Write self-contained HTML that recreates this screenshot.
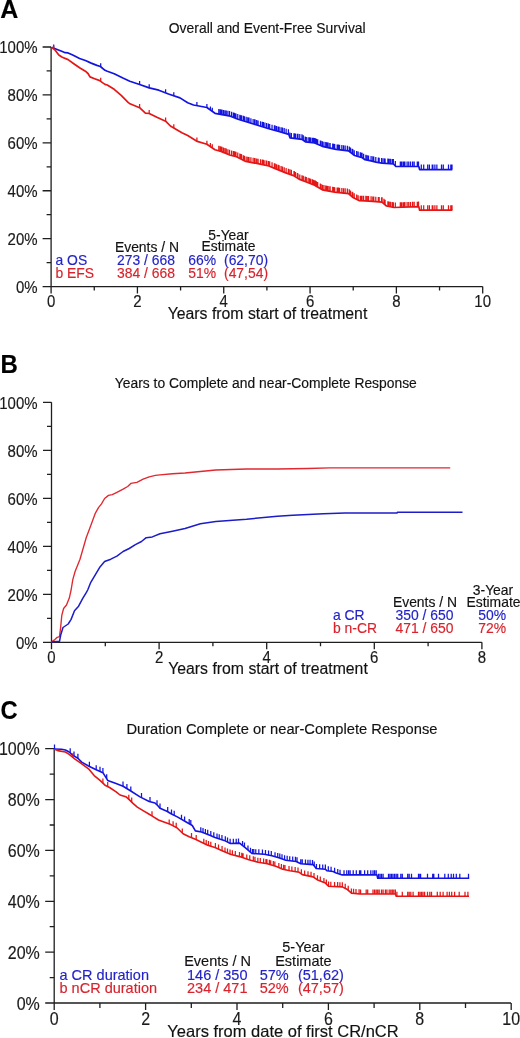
<!DOCTYPE html>
<html><head><meta charset="utf-8"><style>
html,body{margin:0;padding:0;background:#fff;}
body{width:520px;height:1038px;overflow:hidden;}
svg{display:block;font-family:"Liberation Sans", sans-serif;filter:blur(0.3px);}
text{stroke:currentColor;stroke-width:0.15px;paint-order:stroke;}
</style></head><body>
<svg width="520" height="1038" viewBox="0 0 520 1038">
<rect width="520" height="1038" fill="#fff"/>
<text x="0.3" y="18.3" font-size="25" fill="#000" color="#000" text-anchor="start" font-weight="bold">A</text>
<text x="267.25" y="33.2" font-size="13.9" fill="#111" color="#111" text-anchor="middle" font-weight="normal">Overall and Event-Free Survival</text>
<path d="M51.1 47V286.6M51.1 286.6H482.7" stroke="#1e1e1e" stroke-width="1.3" fill="none"/>
<path d="M42.6 286.6H51.1 M46.6 262.64H51.1 M42.6 238.68H51.1 M46.6 214.72H51.1 M42.6 190.76H51.1 M46.6 166.8H51.1 M42.6 142.84H51.1 M46.6 118.88H51.1 M42.6 94.92H51.1 M46.6 70.96H51.1 M42.6 47H51.1 M51.1 286.6V293.6 M94.26 286.6V290.6 M137.42 286.6V293.6 M180.58 286.6V290.6 M223.74 286.6V293.6 M266.9 286.6V290.6 M310.06 286.6V293.6 M353.22 286.6V290.6 M396.38 286.6V293.6 M439.54 286.6V290.6 M482.7 286.6V293.6" stroke="#1e1e1e" stroke-width="1.3" fill="none"/>
<text transform="translate(37.6 292.81) scale(1 1.15)" font-size="15.0" fill="#1a1a1a" color="#1a1a1a" text-anchor="end" font-weight="normal">0%</text>
<text transform="translate(37.6 244.89) scale(1 1.15)" font-size="15.0" fill="#1a1a1a" color="#1a1a1a" text-anchor="end" font-weight="normal">20%</text>
<text transform="translate(37.6 196.97) scale(1 1.15)" font-size="15.0" fill="#1a1a1a" color="#1a1a1a" text-anchor="end" font-weight="normal">40%</text>
<text transform="translate(37.6 149.05) scale(1 1.15)" font-size="15.0" fill="#1a1a1a" color="#1a1a1a" text-anchor="end" font-weight="normal">60%</text>
<text transform="translate(37.6 101.13) scale(1 1.15)" font-size="15.0" fill="#1a1a1a" color="#1a1a1a" text-anchor="end" font-weight="normal">80%</text>
<text transform="translate(37.6 53.21) scale(1 1.15)" font-size="15.0" fill="#1a1a1a" color="#1a1a1a" text-anchor="end" font-weight="normal">100%</text>
<text transform="translate(51.1 306.9) scale(1 1.15)" font-size="15.0" fill="#1a1a1a" color="#1a1a1a" text-anchor="middle" font-weight="normal">0</text>
<text transform="translate(137.42 306.9) scale(1 1.15)" font-size="15.0" fill="#1a1a1a" color="#1a1a1a" text-anchor="middle" font-weight="normal">2</text>
<text transform="translate(223.74 306.9) scale(1 1.15)" font-size="15.0" fill="#1a1a1a" color="#1a1a1a" text-anchor="middle" font-weight="normal">4</text>
<text transform="translate(310.06 306.9) scale(1 1.15)" font-size="15.0" fill="#1a1a1a" color="#1a1a1a" text-anchor="middle" font-weight="normal">6</text>
<text transform="translate(396.38 306.9) scale(1 1.15)" font-size="15.0" fill="#1a1a1a" color="#1a1a1a" text-anchor="middle" font-weight="normal">8</text>
<text transform="translate(482.7 306.9) scale(1 1.15)" font-size="15.0" fill="#1a1a1a" color="#1a1a1a" text-anchor="middle" font-weight="normal">10</text>
<polyline points="51.6,47.3 56.5,49.2 62.3,51.5 65.2,52.7 68.1,52.9 72.7,55 79.6,58.5 85.4,60.5 91.2,63.1 96.9,65.4 100.4,66.5 105,70.3 107.3,71.2 114.2,73.7 122.9,78 129.8,81.2 139.6,84.5 149.2,87.9 158.8,90.2 168.5,94 180,97.9 187.7,102.7 193.5,105 206.9,107.5 215,113.3 230.4,116.2 238,119.2 253.5,124 268.8,128.7 279.6,131.8 288.8,134.4 290,137.8 302,139.3 305.4,141.8 314.6,143 322.3,146.3 336,149.3 348.5,150.9 354.6,155.5 362.3,157.8 365,159.7 371,160.9 376,162.1 382,163.2 393.5,164 395.8,166.4 418.8,166.5 419.6,169.6 452.3,169.6" fill="none" stroke="#1414e0" stroke-width="1.7" stroke-linejoin="round"/>
<polyline points="51.6,47.3 55.4,50.4 58.8,55 62.3,57.3 68.1,59.6 73.8,63.7 79.6,67.7 85.4,71.2 88,73.5 90,76.9 94.6,78.7 99.2,80.4 105,84.4 107.3,85 114.2,89.3 121.2,95.4 128.1,102.3 130,103.8 139.6,107.7 145.4,113.1 149.2,113.5 156.9,117.3 165.6,121.2 170.4,126 173.8,127.9 181.9,132.7 187.7,135.6 197.3,141.4 206.9,144.3 215,149.8 221,151.4 230.4,155.2 236.5,156.8 245.8,161.4 258,163.7 268.8,166 276.5,169.1 285.8,172.9 293.5,175.6 299,179.1 307,182.2 314.6,185.2 322.3,189.8 334.6,192.2 348.5,193.7 353,197.5 359,200.6 365,200.8 372.7,201.4 382,202.2 386.5,206 394,207.5 418.8,206.6 419.6,210.2 452.3,210.2" fill="none" stroke="#e41616" stroke-width="1.7" stroke-linejoin="round"/>
<path d="M53.7 48.11v-3.6 M100.7 66.75v-3.6 M139.6 84.5v-3.6 M149.2 87.9v-3.6 M165.6 92.86v-3.6 M173.8 95.8v-3.6 M196.9 105.63v-3.6 M206.9 107.5v-3.6 M210.4 110.01v-3.6 M212.3 111.37v-3.6 M218.82 114.02v-5 M220.22 114.28v-5 M221.07 114.44v-5 M221.94 114.61v-5 M223.45 114.89v-5 M224.92 115.17v-5 M226.26 115.42v-5 M227.91 115.73v-5 M229.57 116.04v-5 M231.63 116.69v-5 M233.42 117.39v-5 M234.23 117.71v-5 M234.76 117.92v-5 M235.95 118.39v-5 M237.76 119.11v-5 M239.85 119.77v-5 M241.11 120.16v-5 M241.57 120.31v-5 M243.33 120.85v-5 M244.4 121.18v-5 M246.17 121.73v-5 M247.77 122.23v-5 M249 122.61v-5 M250.9 123.19v-5 M253.12 123.88v-5 M254.62 124.34v-5 M255.08 124.49v-5 M256.67 124.97v-5 M258.07 125.4v-5 M260.53 126.16v-5 M262.26 126.69v-5 M263.36 127.03v-5 M264.89 127.5v-5 M266.62 128.03v-5 M268.35 128.56v-5 M269.68 128.95v-5 M272.05 129.63v-5 M274.39 130.3v-5 M275.19 130.53v-5 M276.57 130.93v-5 M278.19 131.4v-5 M279.11 131.66v-5 M281.05 132.21v-5 M282.5 132.62v-5 M284.2 133.1v-5 M286.13 133.65v-5 M288.42 134.29v-5 M289.87 137.43v-5 M291.37 137.97v-5 M293.99 138.3v-5 M294.28 138.34v-5 M295.51 138.49v-5 M297.36 138.72v-5 M297.99 138.8v-5 M299.77 139.02v-5 M301.97 139.3v-5 M303.3 140.26v-5 M305.14 141.61v-5 M306.3 141.92v-5 M308.16 142.16v-5 M309.59 142.35v-5 M310.69 142.49v-5 M312.35 142.71v-5 M313.45 142.85v-5 M314.67 143.03v-5 M315.27 143.29v-5 M316.44 143.79v-5 M317.7 144.33v-5 M320.3 145.44v-5 M321.01 145.75v-5 M322.44 146.33v-5 M323.96 146.66v-5 M325.74 147.05v-5 M326.86 147.3v-5 M328.12 147.57v-5 M329.82 147.95v-5 M330.1 148.01v-5 M332.71 148.58v-5 M333.79 148.82v-5 M334.68 149.01v-5 M337.16 149.45v-5 M338.34 149.6v-5 M339.59 149.76v-5 M341.84 150.05v-5 M343.52 150.26v-5 M345.16 150.47v-5 M347.36 150.75v-5 M349.25 151.47v-5 M350.49 152.4v-5 M352.16 153.66v-5 M352.74 154.1v-5 M354.21 155.21v-5 M356.68 156.12v-5 M358.12 156.55v-5 M360.29 157.2v-5 M360.9 157.38v-5 M362.05 157.73v-5 M363.61 158.72v-5 M365.87 159.87v-5 M367.18 160.14v-5 M368.53 160.41v-5 M371.08 160.92v-5 M372.81 161.33v-5 M373.74 161.56v-5 M375.79 162.05v-5 M378.34 162.53v-5 M379.16 162.68v-5 M381.59 163.12v-5 M382.08 163.21v-5 M383.93 163.33v-5 M385.09 163.41v-5 M387.88 163.61v-5 M388.97 163.68v-5 M390.34 163.78v-5 M392.07 163.9v-5 M393.34 163.99v-5 M395.34 165.92v-5 M400.33 166.42v-5 M400.86 166.42v-5 M402.06 166.43v-5 M403.65 166.43v-5 M404.89 166.44v-5 M407.1 166.45v-5 M408.75 166.46v-5 M410.57 166.46v-5 M412.64 166.47v-5 M414.18 166.48v-5 M417.3 166.49v-5 M418.5 166.5v-5 M421.3 169.6v-5 M423.7 169.6v-5 M427.7 169.6v-5 M429.4 169.6v-5 M432.24 169.6v-5 M432.87 169.6v-5 M434.89 169.6v-5 M436.88 169.6v-5 M441.5 169.6v-5 M443.3 169.6v-5 M448.5 169.6v-5 M450.8 169.6v-5 M452 169.6v-5" stroke="#1414e0" stroke-width="1.25" fill="none"/>
<path d="M53.7 49.01v-3.6 M100.7 81.43v-3.6 M139.6 107.7v-3.6 M149.2 113.5v-3.6 M165.6 121.2v-3.6 M173.8 127.9v-3.6 M196.9 141.16v-3.6 M206.9 144.3v-3.6 M210.4 146.68v-3.6 M212.3 147.97v-3.6 M218.82 150.82v-5 M220.22 151.19v-5 M221.07 151.43v-5 M221.94 151.78v-5 M223.45 152.39v-5 M224.92 152.98v-5 M226.26 153.53v-5 M227.91 154.19v-5 M229.57 154.86v-5 M231.63 155.52v-5 M233.42 155.99v-5 M234.23 156.2v-5 M234.76 156.34v-5 M235.95 156.66v-5 M237.76 157.42v-5 M239.85 158.46v-5 M241.11 159.08v-5 M241.57 159.31v-5 M243.33 160.18v-5 M244.4 160.71v-5 M246.17 161.47v-5 M247.77 161.77v-5 M249 162v-5 M250.9 162.36v-5 M253.12 162.78v-5 M254.62 163.06v-5 M255.08 163.15v-5 M256.67 163.45v-5 M258.07 163.71v-5 M260.53 164.24v-5 M262.26 164.61v-5 M263.36 164.84v-5 M264.89 165.17v-5 M266.62 165.54v-5 M268.35 165.9v-5 M269.68 166.35v-5 M272.05 167.31v-5 M274.39 168.25v-5 M275.19 168.57v-5 M276.57 169.13v-5 M278.19 169.79v-5 M279.11 170.17v-5 M281.05 170.96v-5 M282.5 171.55v-5 M284.2 172.25v-5 M286.13 173.02v-5 M288.42 173.82v-5 M289.87 174.33v-5 M291.37 174.85v-5 M293.99 175.91v-5 M294.28 176.1v-5 M295.51 176.88v-5 M297.36 178.06v-5 M297.99 178.46v-5 M299.77 179.4v-5 M301.97 180.25v-5 M303.3 180.77v-5 M305.14 181.48v-5 M306.3 181.93v-5 M308.16 182.66v-5 M309.59 183.22v-5 M310.69 183.66v-5 M312.35 184.31v-5 M313.45 184.75v-5 M314.67 185.24v-5 M315.27 185.6v-5 M316.44 186.3v-5 M317.7 187.05v-5 M320.3 188.61v-5 M321.01 189.03v-5 M322.44 189.83v-5 M323.96 190.12v-5 M325.74 190.47v-5 M326.86 190.69v-5 M328.12 190.94v-5 M329.82 191.27v-5 M330.1 191.32v-5 M332.71 191.83v-5 M333.79 192.04v-5 M334.68 192.21v-5 M337.16 192.48v-5 M338.34 192.6v-5 M339.59 192.74v-5 M341.84 192.98v-5 M343.52 193.16v-5 M345.16 193.34v-5 M347.36 193.58v-5 M349.25 194.33v-5 M350.49 195.38v-5 M352.16 196.79v-5 M352.74 197.28v-5 M354.21 198.13v-5 M356.68 199.4v-5 M358.12 200.15v-5 M360.29 200.64v-5 M360.9 200.66v-5 M362.05 200.7v-5 M363.61 200.75v-5 M365.87 200.87v-5 M367.18 200.97v-5 M368.53 201.08v-5 M371.08 201.27v-5 M372.81 201.41v-5 M373.74 201.49v-5 M375.79 201.67v-5 M378.34 201.89v-5 M379.16 201.96v-5 M381.59 202.16v-5 M382.08 202.27v-5 M383.93 203.83v-5 M385.09 204.81v-5 M387.88 206.28v-5 M388.97 206.49v-5 M390.34 206.77v-5 M392.07 207.11v-5 M393.34 207.37v-5 M395.34 207.45v-5 M400.33 207.27v-5 M400.86 207.25v-5 M402.06 207.21v-5 M403.65 207.15v-5 M404.89 207.1v-5 M407.1 207.02v-5 M408.75 206.96v-5 M410.57 206.9v-5 M412.64 206.82v-5 M414.18 206.77v-5 M417.3 206.65v-5 M418.5 206.61v-5 M421.3 210.2v-5 M423.7 210.2v-5 M427.7 210.2v-5 M429.4 210.2v-5 M432.24 210.2v-5 M432.87 210.2v-5 M434.89 210.2v-5 M436.88 210.2v-5 M441.5 210.2v-5 M443.3 210.2v-5 M448.5 210.2v-5 M450.8 210.2v-5 M452 210.2v-5" stroke="#e41616" stroke-width="1.25" fill="none"/>
<text x="267.5" y="318.8" font-size="15.8" fill="#111" color="#111" text-anchor="middle" font-weight="normal">Years from start of treatment</text>
<text x="228.5" y="239.6" font-size="13.9" fill="#111" color="#111" text-anchor="middle" font-weight="normal">5-Year</text>
<text x="228.5" y="251.2" font-size="13.9" fill="#111" color="#111" text-anchor="middle" font-weight="normal">Estimate</text>
<text x="179" y="251.5" font-size="13.9" fill="#111" color="#111" text-anchor="end" font-weight="normal">Events / N</text>
<text x="55.5" y="264.8" font-size="13.9" fill="#2222c8" color="#2222c8" text-anchor="start" font-weight="normal">a OS</text>
<text x="175" y="264.8" font-size="13.9" fill="#2222c8" color="#2222c8" text-anchor="end" font-weight="normal">273 / 668</text>
<text x="216" y="264.8" font-size="13.9" fill="#2222c8" color="#2222c8" text-anchor="end" font-weight="normal">66%</text>
<text x="224" y="264.8" font-size="13.9" fill="#2222c8" color="#2222c8" text-anchor="start" font-weight="normal">(62,70)</text>
<text x="55.5" y="277.9" font-size="13.9" fill="#d8222c" color="#d8222c" text-anchor="start" font-weight="normal">b EFS</text>
<text x="175" y="277.9" font-size="13.9" fill="#d8222c" color="#d8222c" text-anchor="end" font-weight="normal">384 / 668</text>
<text x="216" y="277.9" font-size="13.9" fill="#d8222c" color="#d8222c" text-anchor="end" font-weight="normal">51%</text>
<text x="224" y="277.9" font-size="13.9" fill="#d8222c" color="#d8222c" text-anchor="start" font-weight="normal">(47,54)</text>
<text transform="translate(0.4 372.8) scale(0.96 1)" font-size="25" fill="#000" color="#000" font-weight="bold">B</text>
<text x="265.8" y="388" font-size="13.85" fill="#111" color="#111" text-anchor="middle" font-weight="normal">Years to Complete and near-Complete Response</text>
<path d="M51.5 402.3V642.3M51.5 642.3H481.9" stroke="#1e1e1e" stroke-width="1.3" fill="none"/>
<path d="M43 642.3H51.5 M47 618.3H51.5 M43 594.3H51.5 M47 570.3H51.5 M43 546.3H51.5 M47 522.3H51.5 M43 498.3H51.5 M47 474.3H51.5 M43 450.3H51.5 M47 426.3H51.5 M43 402.3H51.5 M51.5 642.3V649.3 M105.3 642.3V646.3 M159.1 642.3V649.3 M212.9 642.3V646.3 M266.7 642.3V649.3 M320.5 642.3V646.3 M374.3 642.3V649.3 M428.1 642.3V646.3 M481.9 642.3V649.3" stroke="#1e1e1e" stroke-width="1.3" fill="none"/>
<text transform="translate(37.6 648.51) scale(1 1.15)" font-size="15.0" fill="#1a1a1a" color="#1a1a1a" text-anchor="end" font-weight="normal">0%</text>
<text transform="translate(37.6 600.51) scale(1 1.15)" font-size="15.0" fill="#1a1a1a" color="#1a1a1a" text-anchor="end" font-weight="normal">20%</text>
<text transform="translate(37.6 552.51) scale(1 1.15)" font-size="15.0" fill="#1a1a1a" color="#1a1a1a" text-anchor="end" font-weight="normal">40%</text>
<text transform="translate(37.6 504.51) scale(1 1.15)" font-size="15.0" fill="#1a1a1a" color="#1a1a1a" text-anchor="end" font-weight="normal">60%</text>
<text transform="translate(37.6 456.51) scale(1 1.15)" font-size="15.0" fill="#1a1a1a" color="#1a1a1a" text-anchor="end" font-weight="normal">80%</text>
<text transform="translate(37.6 408.51) scale(1 1.15)" font-size="15.0" fill="#1a1a1a" color="#1a1a1a" text-anchor="end" font-weight="normal">100%</text>
<text transform="translate(51.5 662.6) scale(1 1.15)" font-size="15.0" fill="#1a1a1a" color="#1a1a1a" text-anchor="middle" font-weight="normal">0</text>
<text transform="translate(159.1 662.6) scale(1 1.15)" font-size="15.0" fill="#1a1a1a" color="#1a1a1a" text-anchor="middle" font-weight="normal">2</text>
<text transform="translate(266.7 662.6) scale(1 1.15)" font-size="15.0" fill="#1a1a1a" color="#1a1a1a" text-anchor="middle" font-weight="normal">4</text>
<text transform="translate(374.3 662.6) scale(1 1.15)" font-size="15.0" fill="#1a1a1a" color="#1a1a1a" text-anchor="middle" font-weight="normal">6</text>
<text transform="translate(481.9 662.6) scale(1 1.15)" font-size="15.0" fill="#1a1a1a" color="#1a1a1a" text-anchor="middle" font-weight="normal">8</text>
<polyline points="51.5,641.9 54.9,639.6 57.2,637.3 59.5,636.7 60.7,626.9 61.8,615.4 63.6,608.5 66.5,605 69.3,598.1 71.1,590 72.8,579.6 75.1,571.5 80,559.2 86.2,537.7 90.8,525.4 93.1,519.2 95.4,513.1 98.5,507.7 101.5,503.8 104.6,498.5 108.5,495.4 112.3,494.6 116.9,492.3 123.1,489.2 127.7,486.5 130.8,483.4 136.9,482.3 143.1,479.2 149.2,476.9 155.4,475.4 160,474.9 172.5,473.75 185,473 215.8,470 246.5,469 277.3,469 308,468.5 329.6,467.8 450.2,467.8" fill="none" stroke="#e02830" stroke-width="1.35" stroke-linejoin="round"/>
<polyline points="51.5,641.9 59.5,641.3 60.7,635 63,627.5 68.2,624 71.1,619.4 74.5,610.8 78.6,606.2 82.6,598.7 86.1,592.9 87.7,590 90.8,582.3 95.4,574.6 100,566.9 104.6,561.5 110.8,559.2 116.9,556.2 123.1,551.5 129.2,548.5 135.4,544.6 141.5,541.5 146.2,537.7 152.3,536.9 160,533.8 172.5,531.25 185,528.5 200.4,523.8 215.8,521.4 246.5,519.2 277.3,516.2 292.7,515.2 323.5,513.7 345,513.1 397,513.1 397.5,512.2 462.5,512.2" fill="none" stroke="#1c1cc8" stroke-width="1.5" stroke-linejoin="round"/>
<text x="268" y="673.8" font-size="15.8" fill="#111" color="#111" text-anchor="middle" font-weight="normal">Years from start of treatment</text>
<text x="493" y="594.8" font-size="13.9" fill="#111" color="#111" text-anchor="middle" font-weight="normal">3-Year</text>
<text x="493.5" y="606.9" font-size="13.9" fill="#111" color="#111" text-anchor="middle" font-weight="normal">Estimate</text>
<text x="457" y="606.9" font-size="13.9" fill="#111" color="#111" text-anchor="end" font-weight="normal">Events / N</text>
<text x="333" y="620.2" font-size="13.9" fill="#2222c8" color="#2222c8" text-anchor="start" font-weight="normal">a CR</text>
<text x="453.5" y="619.8" font-size="13.9" fill="#2222c8" color="#2222c8" text-anchor="end" font-weight="normal">350 / 650</text>
<text x="506" y="619.8" font-size="13.9" fill="#2222c8" color="#2222c8" text-anchor="end" font-weight="normal">50%</text>
<text x="333" y="632.7" font-size="13.9" fill="#d8222c" color="#d8222c" text-anchor="start" font-weight="normal">b n-CR</text>
<text x="453.5" y="632.5" font-size="13.9" fill="#d8222c" color="#d8222c" text-anchor="end" font-weight="normal">471 / 650</text>
<text x="506" y="632.5" font-size="13.9" fill="#d8222c" color="#d8222c" text-anchor="end" font-weight="normal">72%</text>
<text transform="translate(0.4 719) scale(0.95 1)" font-size="25" fill="#000" color="#000" font-weight="bold">C</text>
<text x="281.9" y="733.9" font-size="14.7" fill="#111" color="#111" text-anchor="middle" font-weight="normal">Duration Complete or near-Complete Response</text>
<path d="M54.2 748.7V1003M54.2 1003H511" stroke="#1e1e1e" stroke-width="1.3" fill="none"/>
<path d="M45.2 1003H54.2 M49.7 977.57H54.2 M45.2 952.14H54.2 M49.7 926.71H54.2 M45.2 901.28H54.2 M49.7 875.85H54.2 M45.2 850.42H54.2 M49.7 824.99H54.2 M45.2 799.56H54.2 M49.7 774.13H54.2 M45.2 748.7H54.2 M54.2 1003V1010 M99.9 1003V1008 M145.6 1003V1010 M191.3 1003V1008 M237 1003V1010 M282.7 1003V1008 M328.4 1003V1010 M374.1 1003V1008 M419.8 1003V1010 M465.5 1003V1008 M511.2 1003V1010" stroke="#1e1e1e" stroke-width="1.3" fill="none"/>
<text transform="translate(39.8 1009.62) scale(1 1.15)" font-size="16" fill="#1a1a1a" color="#1a1a1a" text-anchor="end" font-weight="normal">0%</text>
<text transform="translate(39.8 958.76) scale(1 1.15)" font-size="16" fill="#1a1a1a" color="#1a1a1a" text-anchor="end" font-weight="normal">20%</text>
<text transform="translate(39.8 907.9) scale(1 1.15)" font-size="16" fill="#1a1a1a" color="#1a1a1a" text-anchor="end" font-weight="normal">40%</text>
<text transform="translate(39.8 857.04) scale(1 1.15)" font-size="16" fill="#1a1a1a" color="#1a1a1a" text-anchor="end" font-weight="normal">60%</text>
<text transform="translate(39.8 806.18) scale(1 1.15)" font-size="16" fill="#1a1a1a" color="#1a1a1a" text-anchor="end" font-weight="normal">80%</text>
<text transform="translate(39.8 755.32) scale(1 1.15)" font-size="16" fill="#1a1a1a" color="#1a1a1a" text-anchor="end" font-weight="normal">100%</text>
<text transform="translate(54.2 1024.5) scale(1 1.15)" font-size="16" fill="#1a1a1a" color="#1a1a1a" text-anchor="middle" font-weight="normal">0</text>
<text transform="translate(145.6 1024.5) scale(1 1.15)" font-size="16" fill="#1a1a1a" color="#1a1a1a" text-anchor="middle" font-weight="normal">2</text>
<text transform="translate(237 1024.5) scale(1 1.15)" font-size="16" fill="#1a1a1a" color="#1a1a1a" text-anchor="middle" font-weight="normal">4</text>
<text transform="translate(328.4 1024.5) scale(1 1.15)" font-size="16" fill="#1a1a1a" color="#1a1a1a" text-anchor="middle" font-weight="normal">6</text>
<text transform="translate(419.8 1024.5) scale(1 1.15)" font-size="16" fill="#1a1a1a" color="#1a1a1a" text-anchor="middle" font-weight="normal">8</text>
<text transform="translate(511.2 1024.5) scale(1 1.15)" font-size="16" fill="#1a1a1a" color="#1a1a1a" text-anchor="middle" font-weight="normal">10</text>
<polyline points="54.2,749 61.5,749.2 65.4,750 69.2,752 73,755.4 77.9,758.3 81.7,762.1 88.5,766 96.2,769.8 102.9,772.7 107.7,780.4 115.4,783.3 123.1,786.2 130.8,791 140,796.9 149.2,801.5 155,803 158.1,806 160,808.2 166.9,811.2 171.5,814 177.3,816.9 186.2,822 192.3,825.5 195.4,830.9 201.5,832 209.2,835 215,837.4 224.2,840.4 230.4,843.5 239.6,843.1 245.8,848.1 251.9,853.5 264.2,854.3 271.9,855.8 279.6,858.1 285.8,860.3 296.2,861.5 300.8,863.8 313.1,864.6 316.2,868.5 325.4,869.2 326.9,870.8 333.1,871.5 336.2,873.1 342.3,874.9 376.9,874.9 377.7,878.3 469.2,878.3" fill="none" stroke="#1414e0" stroke-width="1.6" stroke-linejoin="round"/>
<polyline points="54.2,749 57.7,750.6 65.4,752 69.2,754.4 75,759.2 80.8,763.1 88.5,768.8 94.2,775.6 100,780.4 105,785.2 109.6,787.5 116.5,792.1 120,795 125.8,796.7 129.2,799.6 132.7,803.1 137.3,807.1 143.1,810.6 148.8,814 152.3,816.1 158.5,820 164.6,822.3 170.8,824.6 176.9,827.7 183.1,833.8 189.2,836.8 195.4,839.2 201.5,842.2 207.7,845.3 215,847.5 222.7,851 230.4,854.3 239.6,856.6 248.8,859.7 258.1,862.3 267.3,863.8 276.5,866.6 282.7,869.2 290,870.8 299.2,872.3 302.3,874.6 313.1,876.9 317.7,880 325.4,883.1 328.5,886.2 342.3,886.9 346.9,889.2 351.5,893.1 360,894 395.4,894 396.2,896.3 469,896.3" fill="none" stroke="#e41616" stroke-width="1.6" stroke-linejoin="round"/>
<path d="M54.5 749.01v-4.6 M70.2 752.89v-4.6 M74 755.99v-4.6 M77.9 758.3v-4.6 M89.4 766.44v-4.6 M96.2 769.8v-4.6 M100 771.44v-4.6 M102.9 772.7v-4.6 M106.7 778.8v-4.6 M123 786.16v-4.6 M126.9 788.57v-4.6 M130.8 791v-4.6 M141.5 797.65v-4.6 M150 801.71v-4.6 M157 804.94v-4.6 M160 808.2v-4.6 M167.7 811.69v-4.6 M171.5 814v-4.6 M174.2 815.35v-4.6 M181.5 819.31v-4.6 M184.6 821.08v-4.6 M189.2 823.72v-4.6 M190.8 824.64v-4.6 M200.8 831.87v-4.6 M203 832.58v-4.6 M205.4 833.52v-4.6 M207.7 834.42v-4.6 M210.8 835.66v-4.6 M213.8 836.9v-4.6 M217 838.05v-4.6 M219.2 838.77v-4.6 M221.95 839.67v-4.6 M225.29 840.94v-4.6 M227.53 842.06v-4.6 M230.14 843.37v-4.6 M233.34 843.37v-4.6 M236.22 843.25v-4.6 M238.49 843.15v-4.6 M242.55 845.48v-4.6 M244.49 847.04v-4.6 M247.98 850.03v-4.6 M250.49 852.25v-4.6 M252.45 853.54v-4.6 M253.81 853.62v-4.6 M255.78 853.75v-4.6 M258.83 853.95v-4.6 M262.44 854.19v-4.6 M265.48 854.55v-4.6 M268.55 855.15v-4.6 M271.3 855.68v-4.6 M275.03 856.73v-4.6 M277.73 857.54v-4.6 M279.8 858.17v-4.6 M282 858.95v-4.6 M284.58 859.87v-4.6 M287.15 860.46v-4.6 M289.74 860.75v-4.6 M292.7 861.1v-4.6 M295.43 861.41v-4.6 M297.01 861.9v-4.6 M300.75 863.77v-4.6 M302.25 863.89v-4.6 M305.46 864.1v-4.6 M307.95 864.27v-4.6 M310.07 864.4v-4.6 M312.47 864.56v-4.6 M314.21 866v-4.6 M316.44 868.52v-4.6 M319.66 868.76v-4.6 M322.71 869v-4.6 M325.35 869.2v-4.6 M328.3 870.96v-4.6 M331.07 871.27v-4.6 M334.61 872.28v-4.6 M337.74 873.55v-4.6 M340.04 874.23v-4.6 M344.03 874.9v-4.6 M346.75 874.9v-4.6 M348.61 874.9v-4.6 M350.13 874.9v-4.6 M353.21 874.9v-4.6 M356.31 874.9v-4.6 M359.51 874.9v-4.6 M360.8 874.9v-4.6 M364.6 874.9v-4.6 M367.7 874.9v-4.6 M370.8 874.9v-4.6 M373 874.9v-4.6 M374.6 874.9v-4.6 M376.2 874.9v-4.6 M378.5 878.3v-4.6 M380 878.3v-4.6 M381.5 878.3v-4.6 M383.1 878.3v-4.6 M388.5 878.3v-4.6 M390 878.3v-4.6 M391.5 878.3v-4.6 M393 878.3v-4.6 M394.6 878.3v-4.6 M396.2 878.3v-4.6 M397.7 878.3v-4.6 M400.8 878.3v-4.6 M402.3 878.3v-4.6 M407.7 878.3v-4.6 M409.2 878.3v-4.6 M411.5 878.3v-4.6 M418.5 878.3v-4.6 M419.2 878.3v-4.6 M420.6 878.3v-4.6 M427.5 878.3v-4.6 M432.7 878.3v-4.6 M433.8 878.3v-4.6 M438.5 878.3v-4.6 M444.8 878.3v-4.6 M448.3 878.3v-4.6 M451.2 878.3v-4.6 M453.5 878.3v-4.6 M456.3 878.3v-4.6 M459.8 878.3v-4.6 M468.5 878.3v-4.6" stroke="#1414e0" stroke-width="1.25" fill="none"/>
<path d="M73 757.54v-4.6 M102.9 783.18v-4.6 M107.7 786.55v-4.6 M128.8 799.26v-4.6 M131.7 802.1v-4.6 M152 815.92v-4.6 M169.2 824.01v-4.6 M173.1 825.77v-4.6 M176.2 827.34v-4.6 M182.3 833.01v-4.6 M191.5 837.69v-4.6 M196.2 839.59v-4.6 M203.8 843.35v-4.6 M206.2 844.55v-4.6 M208.5 845.54v-4.6 M210.8 846.23v-4.6 M215.4 847.68v-4.6 M218.5 849.09v-4.6 M222.07 850.71v-4.6 M224.99 851.98v-4.6 M227.49 853.05v-4.6 M230.04 854.15v-4.6 M232.38 854.79v-4.6 M235.31 855.53v-4.6 M239.49 856.57v-4.6 M241.77 857.33v-4.6 M243.05 857.76v-4.6 M246.77 859.02v-4.6 M249.75 859.97v-4.6 M253.31 860.96v-4.6 M254.96 861.42v-4.6 M257.85 862.23v-4.6 M260.28 862.66v-4.6 M263.61 863.2v-4.6 M265.96 863.58v-4.6 M266.94 863.74v-4.6 M269.39 864.44v-4.6 M270.69 864.83v-4.6 M273.32 865.63v-4.6 M274.84 866.09v-4.6 M278.82 867.57v-4.6 M281.39 868.65v-4.6 M283.54 869.38v-4.6 M284.94 869.69v-4.6 M289.02 870.59v-4.6 M291.86 871.1v-4.6 M295.14 871.64v-4.6 M297.99 872.1v-4.6 M301.35 873.9v-4.6 M304.63 875.1v-4.6 M308.01 875.82v-4.6 M311.03 876.46v-4.6 M314.01 877.51v-4.6 M317.48 879.85v-4.6 M320.31 881.05v-4.6 M323.91 882.5v-4.6 M326.35 884.05v-4.6 M328.57 886.2v-4.6 M330.82 886.32v-4.6 M334.56 886.51v-4.6 M337.63 886.66v-4.6 M339.92 886.78v-4.6 M342.32 886.91v-4.6 M345.21 888.36v-4.6 M348.22 890.32v-4.6 M351.41 893.02v-4.6 M353.56 893.32v-4.6 M355.99 893.58v-4.6 M359.06 893.9v-4.6 M360.57 894v-4.6 M366.2 894v-4.6 M367.7 894v-4.6 M373 894v-4.6 M374.6 894v-4.6 M376.2 894v-4.6 M377.7 894v-4.6 M379.2 894v-4.6 M381.5 894v-4.6 M383.1 894v-4.6 M385.4 894v-4.6 M386.9 894v-4.6 M389.2 894v-4.6 M390.8 894v-4.6 M392.3 894v-4.6 M393.8 894v-4.6 M395.4 894v-4.6 M396.9 896.3v-4.6 M402.3 896.3v-4.6 M407.7 896.3v-4.6 M409.2 896.3v-4.6 M410.8 896.3v-4.6 M413.1 896.3v-4.6 M418.5 896.3v-4.6 M420 896.3v-4.6 M421.5 896.3v-4.6 M423 896.3v-4.6 M424.6 896.3v-4.6 M427.5 896.3v-4.6 M429.8 896.3v-4.6 M431.5 896.3v-4.6 M437.3 896.3v-4.6 M440.2 896.3v-4.6 M443.1 896.3v-4.6 M447.1 896.3v-4.6 M449.4 896.3v-4.6 M451.7 896.3v-4.6 M454.6 896.3v-4.6 M459.2 896.3v-4.6 M465 896.3v-4.6 M467.9 896.3v-4.6" stroke="#e41616" stroke-width="1.25" fill="none"/>
<text x="283" y="1037.4" font-size="16.5" fill="#111" color="#111" text-anchor="middle" font-weight="normal">Years from date of first CR/nCR</text>
<text x="303.4" y="951.9" font-size="14.5" fill="#111" color="#111" text-anchor="middle" font-weight="normal">5-Year</text>
<text x="303.4" y="965.8" font-size="14.5" fill="#111" color="#111" text-anchor="middle" font-weight="normal">Estimate</text>
<text x="251.1" y="965.8" font-size="14.5" fill="#111" color="#111" text-anchor="end" font-weight="normal">Events / N</text>
<text x="59.5" y="980" font-size="14.5" fill="#2222c8" color="#2222c8" text-anchor="start" font-weight="normal">a CR duration</text>
<text x="247.5" y="980" font-size="14.5" fill="#2222c8" color="#2222c8" text-anchor="end" font-weight="normal">146 / 350</text>
<text x="288.7" y="980" font-size="14.5" fill="#2222c8" color="#2222c8" text-anchor="end" font-weight="normal">57%</text>
<text x="297.9" y="980" font-size="14.5" fill="#2222c8" color="#2222c8" text-anchor="start" font-weight="normal">(51,62)</text>
<text x="59.5" y="992.8" font-size="14.5" fill="#d8222c" color="#d8222c" text-anchor="start" font-weight="normal">b nCR duration</text>
<text x="247.5" y="992.8" font-size="14.5" fill="#d8222c" color="#d8222c" text-anchor="end" font-weight="normal">234 / 471</text>
<text x="288.7" y="992.8" font-size="14.5" fill="#d8222c" color="#d8222c" text-anchor="end" font-weight="normal">52%</text>
<text x="297.9" y="992.8" font-size="14.5" fill="#d8222c" color="#d8222c" text-anchor="start" font-weight="normal">(47,57)</text>
</svg>
</body></html>
